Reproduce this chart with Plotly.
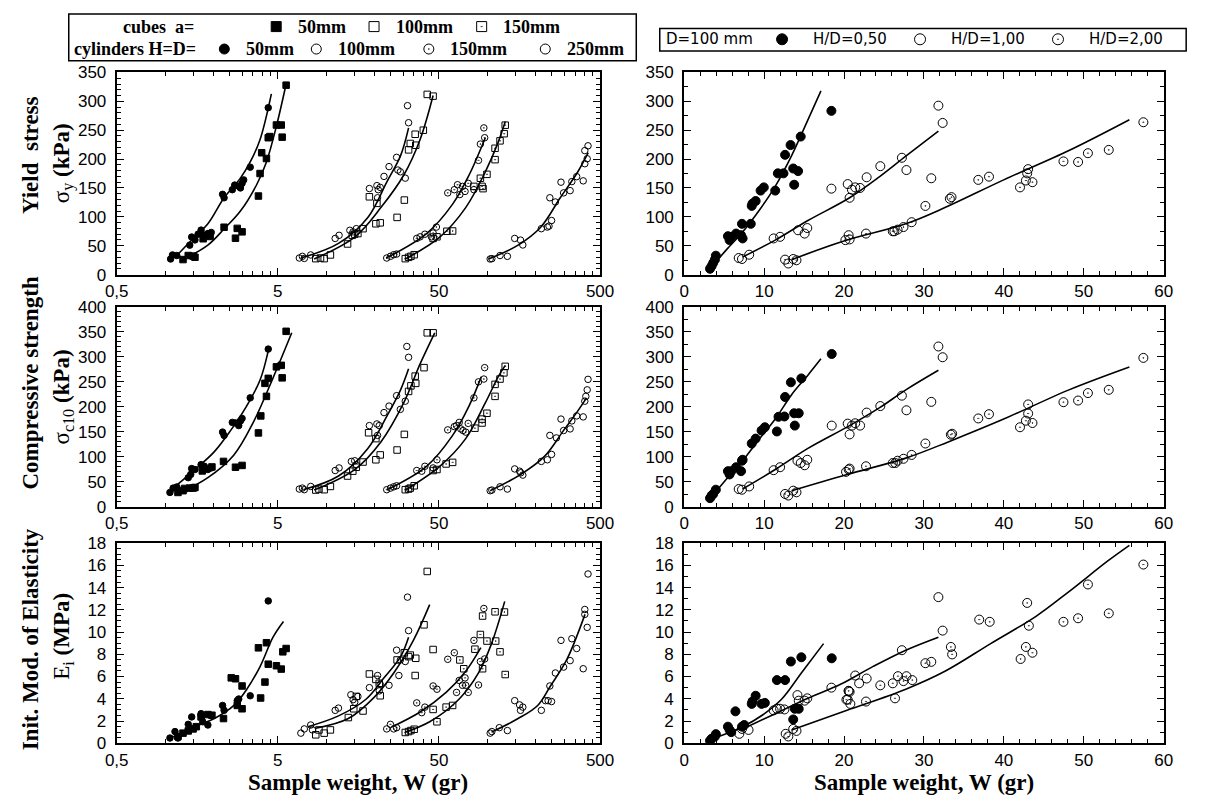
import math
import plotly.graph_objects as go

# ---------------- Yield stress, log weight axis (kPa) ----------------
sy_cyl50_w = [1.08, 1.11, 1.18, 1.42, 1.46, 1.53, 1.60, 1.67, 1.75, 1.84, 1.93, 2.27, 2.32, 2.61, 2.70, 2.86, 2.93, 3.0, 3.07, 3.37, 4.36]
sy_cyl50 = [27, 34, 33, 51, 65, 60, 70, 77, 68, 71, 73, 139, 133, 147, 155, 153, 150, 158, 164, 186, 289]
sy_cube50_w = [1.29, 1.39, 1.49, 1.53, 1.72, 1.90, 2.32, 2.73, 2.80, 3.0, 3.79, 3.88, 3.97, 4.25, 4.36, 4.46, 4.9, 5.25, 5.32, 5.63]
sy_cube50 = [26, 33, 32, 30, 62, 66, 82, 63, 80, 74, 136, 175, 211, 201, 237, 239, 259, 259, 238, 328]
sy_cyl100_w = [6.8, 7.1, 7.3, 8.0, 11.35, 12.0, 14.0, 14.66, 15.35, 18.5, 20.6, 21.0, 21.6, 20.8, 22.8, 24.5, 27.3, 27.8, 28.8, 30.9, 31.9, 32.4]
sy_cyl100 = [28.7, 31.6, 28, 34, 62.6, 68, 76.7, 74, 79.5, 149, 154, 147, 151, 133, 170, 187, 203, 181, 178, 167, 292.5, 263]
sy_cube100_w = [8.6, 9.2, 9.7, 10.6, 13.55, 14.5, 15.0, 15.7, 16.9, 18.5, 20.6, 20.3, 21.6, 27.5, 30.5, 32.4, 33.2, 35.9, 35.6, 40.0, 42.3, 46.0]
sy_cube100 = [27.6, 28.7, 27.6, 34, 53, 68, 70, 71, 79.5, 134.7, 123.4, 88, 89.6, 99, 129, 216, 227, 224, 243, 250, 312, 309]
sy_cyl150_w = [23.7, 25.0, 26.2, 27.3, 36.4, 38.2, 40.9, 44.9, 46.0, 48.2, 56.7, 62.3, 65.2, 67.4, 70.0, 72.6, 76.0, 82.4, 88.0, 90.4, 95.0, 96.1]
sy_cyl150 = [28.7, 31.6, 34.4, 35.5, 62.6, 65.4, 69.9, 65.4, 72, 82.3, 141.5, 147, 155.6, 138.6, 152.7, 144, 158, 147, 197.8, 226, 254, 237]
sy_cube150_w = [30.9, 32.4, 33.5, 35.1, 46.0, 48.6, 56.0, 60.8, 82.4, 92.6, 93.9, 90.4, 99.3, 111.5, 119.7, 111.5, 127.0, 128.9]
sy_cube150 = [27.6, 29.9, 31.6, 34.4, 62.6, 65.4, 75, 75.5, 152.7, 152.7, 148.8, 166.8, 173.6, 199, 231.6, 218.7, 244, 258.7]
sy_cyl250_w = [104, 106.5, 119.7, 133, 147.6, 160.4, 165.8, 216, 235.5, 241, 250, 244, 264, 286, 297, 326, 334, 358, 393, 402, 402, 416, 421]
sy_cyl250 = [27, 27.6, 33, 31.6, 62.6, 59.7, 51.3, 79.5, 82.3, 84, 93.6, 133, 125.7, 160, 141.5, 145.4, 161, 169.6, 162.3, 214.7, 192, 200.6, 223]

sy_cyl50_fit_w = [1.18, 1.46, 1.84, 2.32, 2.93, 3.37, 3.88, 4.56]
sy_cyl50_fit = [33, 60, 88, 133, 167, 195, 234, 313]
sy_cube50_fit_w = [1.29, 1.84, 2.32, 2.93, 3.70, 4.25, 4.9, 5.63]
sy_cube50_fit = [26, 51, 79, 110, 156, 195, 257, 330]
sy_cyl100_fit_w = [6.95, 11.9, 18.1, 23.8, 28.9, 32.4]
sy_cyl100_fit = [28.7, 54, 99, 161, 206, 254]
sy_cube100_fit_w = [8.4, 15.0, 21.8, 30.2, 38.2, 46.0]
sy_cube100_fit = [27, 65, 116, 172, 234, 310]
sy_cyl150_fit_w = [23.5, 41.9, 60.8, 76.8, 97.0]
sy_cyl150_fit = [28.7, 71, 122, 172, 237]
sy_cube150_fit_w = [30.9, 50.6, 73.3, 97.0, 116.5, 129.0]
sy_cube150_fit = [27, 65, 116, 178, 229, 265]
sy_cyl250_fit_w = [101.6, 155, 214, 283, 364, 422]
sy_cyl250_fit = [27, 51, 82, 133, 178, 211]

# ---------------- Compressive strength, log weight axis (kPa) ----------------
sc_cyl50_w = [1.07, 1.12, 1.18, 1.39, 1.44, 1.46, 1.53, 1.67, 1.75, 1.84, 1.93, 2.27, 2.32, 2.61, 2.73, 2.86, 2.93, 3.0, 3.37, 4.36]
sc_cyl50 = [29, 37.7, 40, 58.5, 65, 76.7, 74.8, 84.6, 81.3, 74.8, 78, 149.6, 143, 169, 168, 162.6, 172, 177, 218, 315.5]
sc_cube50_w = [1.2, 1.29, 1.32, 1.42, 1.49, 1.53, 1.70, 1.95, 2.30, 2.73, 3.0, 3.79, 3.92, 4.16, 4.25, 4.36, 4.9, 5.25, 5.32, 5.63]
sc_cube50 = [29, 32.5, 37, 37.7, 37.7, 39, 72, 80, 91, 79.4, 83, 148, 182, 247, 221, 257, 280, 283, 258, 351]
sc_cyl100_w = [6.8, 7.1, 7.3, 8.0, 11.35, 12.0, 14.3, 15.0, 15.35, 18.5, 20.6, 21.3, 20.8, 22.8, 24.5, 27.3, 28.8, 30.9, 31.6, 32.4]
sc_cyl100 = [35.8, 37.7, 34.5, 41, 72.8, 78, 91, 92.4, 84.6, 162.6, 165.9, 162.6, 143, 188.6, 201.6, 222.4, 195, 211.4, 320.7, 299]
sc_cube100_w = [8.6, 9.0, 9.7, 10.6, 13.55, 14.6, 15.35, 16.9, 18.3, 20.3, 20.3, 21.6, 27.5, 30.5, 32.4, 33.5, 35.9, 35.6, 40.4, 42.3, 46.0]
sc_cube100 = [33.8, 35.8, 34.5, 41, 61.8, 71.5, 79.4, 89.8, 148.3, 136.6, 94.3, 104, 113.8, 145, 230.9, 242, 247, 261.5, 278.4, 348, 348]
sc_cyl150_w = [23.7, 25.0, 26.2, 27.3, 36.4, 39.1, 40.9, 46.0, 48.6, 56.7, 62.3, 64.3, 66.8, 68.3, 70.5, 73.3, 76.0, 82.4, 88.0, 95.0, 96.1]
sc_cyl150 = [34.5, 37.7, 40.3, 42.3, 72.8, 71.5, 81.3, 78, 94.3, 154, 160.6, 162.6, 169, 156, 152.8, 149.6, 167, 218, 250, 255.6, 278.4]
sc_cube150_w = [30.9, 32.4, 33.2, 35.1, 46.0, 48.6, 55.4, 60.8, 83.6, 92.6, 92.6, 99.3, 111.5, 111.5, 119.7, 126.5, 128.9]
sc_cube150 = [34.5, 35.8, 37.7, 42.3, 72.8, 74.8, 85.9, 89.1, 157.4, 175.6, 167.8, 187.3, 221, 245, 255.6, 268, 281]
sc_cyl250_w = [104, 106.5, 119.7, 133, 147.6, 158.3, 161, 165.8, 216, 235.5, 244, 250, 268, 286, 297, 326, 334, 358, 393, 402, 408, 416, 421]
sc_cyl250 = [32.5, 33.8, 40.3, 35.8, 76, 71.5, 68.3, 63.7, 91, 94.3, 143, 105, 138, 175.6, 152.8, 156, 172, 182, 180, 211.4, 221, 234, 255]

sc_cyl50_fit_w = [1.12, 1.53, 2.02, 2.55, 3.2, 3.88, 4.36]
sc_cyl50_fit = [37.7, 74.8, 110.6, 153, 201.6, 253.7, 312]
sc_cube50_fit_w = [1.2, 1.84, 2.67, 3.52, 4.7, 6.1]
sc_cube50_fit = [26, 58.5, 104, 169, 260, 348]
sc_cyl100_fit_w = [7.2, 11.9, 18.1, 23.8, 28.9, 32.4]
sc_cyl100_fit = [34.5, 61.8, 117, 182, 234, 276]
sc_cube100_fit_w = [8.4, 15.0, 21.8, 30.2, 38.2, 47.1]
sc_cube100_fit = [33.8, 74.8, 130, 208, 286, 348]
sc_cyl150_fit_w = [23.8, 41.9, 60.8, 76.8, 91.5]
sc_cyl150_fit = [34.5, 81.3, 143, 201.6, 260]
sc_cube150_fit_w = [30.9, 50.6, 73.3, 97.0, 116.5, 129.0]
sc_cube150_fit = [33.8, 81.3, 136.6, 208, 260, 283]
sc_cyl250_fit_w = [104, 161, 226, 297, 364, 412]
sc_cyl250_fit = [32.5, 65, 101, 153, 192, 218]

# ---------------- Initial modulus of elasticity, log weight axis (MPa) ----------------
ei_cyl50_w = [1.07, 1.15, 1.2, 1.39, 1.46, 1.67, 1.67, 1.71, 1.84, 2.27, 2.32, 2.80, 2.86, 3.37, 4.36]
ei_cyl50 = [0.47, 1.05, 0.47, 1.7, 2.37, 2.66, 2.5, 1.93, 1.64, 3.4, 2.96, 3.83, 3.98, 4.27, 12.8]
ei_cube50_w = [1.2, 1.29, 1.39, 1.49, 1.56, 1.67, 1.84, 1.95, 2.30, 2.57, 2.73, 2.80, 3.0, 3.0, 3.79, 3.91, 4.16, 4.25, 4.36, 4.9, 5.25, 5.37, 5.63]
ei_cube50 = [0.61, 0.91, 1.11, 1.29, 1.49, 2.37, 2.58, 2.52, 2.22, 5.88, 5.8, 3.4, 3.1, 5.15, 8.58, 4.07, 5.5, 9.04, 7.11, 6.97, 6.67, 8.22, 8.52]
ei_cyl100_w = [6.95, 7.3, 8.0, 8.2, 11.35, 11.9, 14.2, 14.66, 15.0, 15.7, 18.5, 20.8, 21.3, 21.6, 24.5, 27.3, 28.2, 28.8, 30.9, 31.9, 32.4]
ei_cyl100 = [0.91, 1.29, 1.64, 1.2, 2.96, 3.16, 4.36, 3.92, 3.69, 4.21, 5.0, 6.09, 4.71, 5.3, 5.21, 8.37, 6.09, 7.49, 7.35, 13.14, 10.13]
ei_cube100_w = [8.6, 9.0, 9.7, 10.6, 13.7, 14.8, 15.35, 16.9, 18.5, 20.3, 21.3, 21.6, 27.5, 30.5, 32.4, 33.2, 35.9, 35.6, 40.4, 46.0, 42.3]
ei_cube100 = [0.76, 1.2, 0.91, 1.2, 2.31, 3.1, 4.21, 2.9, 6.23, 5.74, 5.39, 4.27, 7.49, 8.14, 7.79, 7.93, 7.64, 6.09, 10.65, 8.43, 15.45]
ei_cyl150_w = [23.7, 25.0, 26.2, 27.3, 36.4, 39.1, 40.9, 46.0, 48.6, 56.7, 62.3, 64.3, 66.8, 70.0, 72.6, 73.3, 76.0, 82.4, 88.0, 90.4, 95.0, 96.1]
ei_cyl150 = [1.29, 1.7, 1.29, 1.4, 3.63, 2.75, 3.25, 5.15, 4.86, 7.55, 8.14, 4.57, 5.65, 5.21, 5.88, 5.21, 4.57, 9.25, 5.24, 7.35, 12.12, 7.58]
ei_cube150_w = [30.9, 32.4, 33.5, 35.1, 46.0, 48.6, 55.4, 60.8, 67.4, 71.3, 83.6, 90.4, 93.3, 93.3, 99.3, 111.5, 112.5, 119.7, 127.5, 128.9]
ei_cube150 = [0.97, 1.05, 1.14, 1.26, 3.04, 1.93, 3.25, 3.4, 7.49, 6.7, 8.46, 9.78, 11.44, 6.7, 9.19, 11.82, 9.19, 8.22, 11.8, 6.18]
ei_cyl250_w = [104, 106.5, 118.5, 133, 147.6, 158.3, 160.4, 165.8, 216, 229, 238, 244, 250, 264, 286, 297, 326, 334, 358, 393, 402, 402, 416, 421]
ei_cyl250 = [0.91, 1.05, 1.4, 1.14, 3.83, 3.45, 2.96, 3.25, 2.96, 3.83, 3.83, 5.15, 3.75, 6.32, 9.25, 6.85, 7.43, 9.4, 8.52, 6.7, 12.03, 11.59, 10.42, 15.22]

ei_d50_fit_w = [1.1, 1.53, 2.02, 2.67, 3.21, 3.88, 4.67, 5.42]
ei_d50_fit = [0.53, 1.49, 2.22, 3.4, 4.86, 6.9, 9.54, 10.95]
ei_cyl100_fit_w = [7.7, 11.9, 17.7, 22.8, 28.9, 32.4]
ei_cyl100_fit = [1.49, 2.46, 3.98, 5.88, 7.79, 9.54]
ei_cube100_fit_w = [8.6, 13.7, 19.8, 26.2, 34.7, 43.8]
ei_cube100_fit = [1.35, 2.22, 4.13, 6.32, 9.25, 12.47]
ei_cyl150_fit_w = [25.7, 38.2, 55.4, 73.3, 91.0]
ei_cyl150_fit = [1.49, 2.81, 4.57, 6.47, 8.6]
ei_cube150_fit_w = [30.9, 43.8, 66.8, 88.0, 106.0, 128.0]
ei_cube150_fit = [1.0, 1.93, 3.98, 6.32, 8.96, 12.76]
ei_cyl250_fit_w = [106, 155, 205, 246, 310, 403]
ei_cyl250_fit = [1.0, 2.22, 3.4, 5.15, 7.49, 11.59]

# ---------------- D = 100 mm cylinders, linear weight axis ----------------
sy_hd050_w = [3.23, 3.43, 3.63, 3.84, 3.96, 5.47, 5.68, 5.88, 6.49, 7.11, 7.23, 7.31, 8.33, 8.45, 8.54, 8.94, 9.56, 9.96, 11.39, 11.72, 12.42, 12.62, 13.31, 13.64, 13.76, 14.25, 14.58, 18.42]
sy_hd050 = [10.1, 14.7, 20.3, 25.9, 32.7, 66.5, 59.7, 65.4, 71, 68.2, 87.9, 62.6, 87.9, 118.9, 122.9, 127.4, 145.4, 151, 145.4, 175.3, 175.3, 207.4, 224.3, 183.7, 155.6, 179.2, 239, 283.5]
sy_hd100_w = [6.82, 7.23, 8.13, 11.19, 12.0, 14.25, 15.07, 15.4, 18.42, 20.46, 20.7, 20.99, 21.4, 22.01, 22.83, 24.54, 27.24, 27.81, 30.92, 31.81, 32.34]
sy_hd100 = [28.7, 27, 34.4, 62.6, 65.4, 76.7, 71, 80.6, 148.8, 156.7, 133, 147, 151, 150, 168.5, 187.7, 202.3, 181, 166.8, 292.5, 262.6]
sy_hd200_w = [12.62, 13.03, 13.64, 14.05, 20.17, 20.58, 20.7, 22.75, 26.1, 26.3, 26.7, 27.44, 28.46, 30.18, 33.24, 33.45, 36.8, 38.14, 42.02, 42.76, 42.92, 43.04, 43.58, 47.46, 49.29, 50.52, 53.13, 57.46]
sy_hd200 = [25.9, 19.2, 27, 24.8, 59.7, 68.2, 60.9, 71, 75, 75, 77.8, 82.3, 90.7, 118.9, 131.3, 134.1, 164, 169.6, 151, 162.9, 175.3, 182.6, 160, 196, 195, 210.2, 215.9, 263.8]
sy_hd050_fit_w = [3.23, 5.27, 7.31, 9.35, 11.39, 13.44, 15.48, 17.11]
sy_hd050_fit = [10, 42.8, 73.8, 110.5, 152.7, 206, 268, 318]
sy_hd100_fit_w = [7.31, 11.39, 15.48, 20.7, 24.46, 27.73, 31.81]
sy_hd100_fit = [30.4, 59.7, 93.6, 133, 169.6, 205, 248.5]
sy_hd200_fit_w = [13.44, 20.38, 27.73, 32.63, 39.98, 48.15, 55.71]
sy_hd200_fit = [25.9, 59.7, 87.9, 116, 164, 214.7, 268]

sc_hd050_w = [3.23, 3.43, 3.63, 3.96, 5.47, 5.68, 5.88, 6.49, 7.11, 7.23, 7.31, 8.45, 8.94, 9.68, 10.09, 11.6, 11.8, 12.54, 12.62, 13.35, 13.76, 13.84, 14.33, 14.66, 18.46]
sc_hd050 = [17.6, 22.8, 26, 34.5, 71.5, 65, 71.5, 79.4, 71.5, 92.4, 94.3, 126.8, 136.6, 152.8, 159.3, 150.9, 180.2, 180.8, 219.8, 249.1, 187.3, 162.6, 187.3, 256.9, 305.7]
sc_hd100_w = [6.82, 7.23, 8.13, 11.19, 12.0, 14.17, 14.58, 15.07, 15.4, 18.46, 20.46, 20.7, 20.99, 21.4, 22.01, 22.83, 24.54, 27.24, 27.81, 30.92, 31.81, 32.34]
sc_hd100 = [35.8, 34.5, 41, 73.5, 79.4, 92.4, 87.8, 83.3, 94.3, 162.6, 166.5, 145, 162.6, 167.2, 162.6, 188.6, 201.6, 222.4, 193.2, 210, 320.7, 299.2]
sc_hd200_w = [12.62, 13.03, 13.64, 14.05, 20.25, 20.58, 20.7, 22.75, 26.1, 26.42, 26.7, 27.44, 28.46, 30.18, 33.37, 33.53, 36.8, 38.14, 42.02, 42.76, 43.04, 43.04, 43.58, 47.46, 49.29, 50.52, 53.13, 57.46]
sc_hd200 = [26, 22.8, 32.5, 29.3, 70.2, 74.8, 76.7, 81.3, 87.8, 87.8, 92.4, 96.3, 104, 126.8, 144.4, 146.3, 176.9, 185.4, 159.3, 172.4, 186.7, 204.9, 167.8, 209.4, 212.7, 227.6, 234.1, 297.9]
sc_hd050_fit_w = [3.23, 5.27, 7.31, 9.35, 11.39, 13.44, 15.48, 17.11]
sc_hd050_fit = [16.3, 55.3, 92.4, 134.6, 175.6, 224.4, 263.4, 296]
sc_hd100_fit_w = [7.31, 11.39, 15.48, 20.7, 24.46, 27.73, 31.81]
sc_hd100_fit = [35.8, 74.8, 117, 162.6, 198.4, 234, 273.2]
sc_hd200_fit_w = [13.44, 20.38, 27.73, 33.04, 39.98, 48.15, 55.71]
sc_hd200_fit = [32.5, 65, 97.6, 130, 175.6, 234, 279.7]

ei_hd050_w = [3.23, 3.43, 3.84, 3.96, 5.47, 5.68, 5.88, 6.41, 7.23, 7.51, 8.45, 8.54, 8.94, 9.68, 10.09, 11.6, 12.62, 13.35, 13.64, 13.84, 14.33, 14.66, 18.46]
ei_hd050 = [0.23, 0.41, 0.61, 0.82, 1.49, 1.2, 1.0, 2.87, 1.49, 1.64, 3.54, 3.75, 4.27, 3.54, 3.63, 5.68, 5.68, 7.35, 2.14, 3.1, 3.1, 7.73, 7.64]
ei_hd100_w = [6.9, 7.23, 8.05, 11.19, 11.6, 12.0, 12.54, 14.17, 14.33, 15.07, 15.4, 18.42, 20.46, 20.58, 20.7, 21.4, 21.89, 22.83, 27.24, 30.92, 31.81, 32.34]
ei_hd100 = [0.85, 1.29, 1.2, 2.96, 3.1, 3.1, 3.04, 4.33, 3.83, 3.83, 4.04, 5.0, 3.92, 4.71, 4.62, 6.09, 5.39, 5.82, 8.37, 7.32, 13.14, 10.13]
ei_hd200_w = [12.7, 13.03, 13.64, 14.05, 20.3, 20.58, 20.79, 22.75, 24.54, 26.1, 26.38, 26.75, 27.44, 27.81, 28.54, 30.18, 33.37, 33.53, 36.92, 38.23, 42.1, 42.76, 42.92, 43.13, 43.58, 47.46, 49.29, 50.52, 53.13, 57.46]
ei_hd200 = [0.85, 0.61, 1.29, 1.11, 3.92, 4.71, 3.54, 3.75, 5.21, 5.39, 4.04, 6.03, 5.59, 6.03, 5.68, 7.2, 8.66, 7.99, 11.12, 10.92, 7.58, 8.66, 12.62, 10.57, 8.14, 10.92, 11.24, 14.28, 11.68, 16.07]
ei_hd050_fit_w = [3.23, 7.31, 9.76, 12.21, 14.66, 17.44]
ei_hd050_fit = [0.32, 1.49, 2.52, 3.98, 6.32, 8.96]
ei_hd100_fit_w = [7.31, 11.39, 15.48, 19.56, 23.65, 27.73, 31.81]
ei_hd100_fit = [1.29, 2.66, 4.04, 5.3, 6.91, 8.37, 9.54]
ei_hd200_fit_w = [13.44, 20.38, 27.73, 32.63, 38.35, 44.07, 48.15, 53.05, 55.71]
ei_hd200_fit = [1.2, 2.96, 4.86, 6.47, 8.96, 11.44, 13.64, 16.42, 17.8]

# ---------------- tick labels ----------------
log_tickvals = [0.5, 5, 50, 500]
log_ticktext = ["0,5", "5", "50", "500"]
lin_tickvals = [0, 10, 20, 30, 40, 50, 60]

# ---------------- figure geometry ----------------
W, H = 1208, 805
SERIF = "Liberation Serif, Times New Roman, serif"
SANS = "Liberation Sans, Arial, sans-serif"

def px_x(a, b):
    return [a / W, b / W]

def px_y(top, bottom):
    return [1 - bottom / H, 1 - top / H]

LEFT_X = px_x(107, 601)
RIGHT_X = px_x(687, 1177)
ROWS_Y = [px_y(65, 272), px_y(305, 510), px_y(547, 752)]

SYM = {
    "cube50": "square", "cube100": "square-open", "cube150": "square-open-dot",
    "cyl50": "circle", "cyl100": "circle-open", "cyl150": "circle-open-dot",
    "cyl250": "circle-open",
    "hd050": "circle", "hd100": "circle-open", "hd200": "circle-open-dot",
}

fig = go.Figure()


def scatter(w, v, key, xa, ya, size):
    fig.add_trace(go.Scatter(
        x=w, y=v, mode="markers", xaxis=xa, yaxis=ya, showlegend=False,
        marker=dict(symbol=SYM[key], size=size, color="black",
                    line=dict(color="black", width=1)),
    ))


def curve(w, v, xa, ya, width=1.6):
    fig.add_trace(go.Scatter(
        x=w, y=v, mode="lines", xaxis=xa, yaxis=ya, showlegend=False,
        line=dict(color="black", width=width, shape="spline", smoothing=1.0),
    ))


# left column: cubes and cylinders on the log weight axis
left_panels = [
    ("x", "y", [
        (sy_cube50_w, sy_cube50, "cube50"), (sy_cyl50_w, sy_cyl50, "cyl50"),
        (sy_cyl100_w, sy_cyl100, "cyl100"), (sy_cube100_w, sy_cube100, "cube100"),
        (sy_cyl150_w, sy_cyl150, "cyl150"), (sy_cube150_w, sy_cube150, "cube150"),
        (sy_cyl250_w, sy_cyl250, "cyl250")],
     [(sy_cyl50_fit_w, sy_cyl50_fit), (sy_cube50_fit_w, sy_cube50_fit),
      (sy_cyl100_fit_w, sy_cyl100_fit), (sy_cube100_fit_w, sy_cube100_fit),
      (sy_cyl150_fit_w, sy_cyl150_fit), (sy_cube150_fit_w, sy_cube150_fit),
      (sy_cyl250_fit_w, sy_cyl250_fit)]),
    ("x3", "y3", [
        (sc_cube50_w, sc_cube50, "cube50"), (sc_cyl50_w, sc_cyl50, "cyl50"),
        (sc_cyl100_w, sc_cyl100, "cyl100"), (sc_cube100_w, sc_cube100, "cube100"),
        (sc_cyl150_w, sc_cyl150, "cyl150"), (sc_cube150_w, sc_cube150, "cube150"),
        (sc_cyl250_w, sc_cyl250, "cyl250")],
     [(sc_cyl50_fit_w, sc_cyl50_fit), (sc_cube50_fit_w, sc_cube50_fit),
      (sc_cyl100_fit_w, sc_cyl100_fit), (sc_cube100_fit_w, sc_cube100_fit),
      (sc_cyl150_fit_w, sc_cyl150_fit), (sc_cube150_fit_w, sc_cube150_fit),
      (sc_cyl250_fit_w, sc_cyl250_fit)]),
    ("x5", "y5", [
        (ei_cube50_w, ei_cube50, "cube50"), (ei_cyl50_w, ei_cyl50, "cyl50"),
        (ei_cyl100_w, ei_cyl100, "cyl100"), (ei_cube100_w, ei_cube100, "cube100"),
        (ei_cyl150_w, ei_cyl150, "cyl150"), (ei_cube150_w, ei_cube150, "cube150"),
        (ei_cyl250_w, ei_cyl250, "cyl250")],
     [(ei_d50_fit_w, ei_d50_fit),
      (ei_cyl100_fit_w, ei_cyl100_fit), (ei_cube100_fit_w, ei_cube100_fit),
      (ei_cyl150_fit_w, ei_cyl150_fit), (ei_cube150_fit_w, ei_cube150_fit),
      (ei_cyl250_fit_w, ei_cyl250_fit)]),
]

right_panels = [
    ("x2", "y2", [(sy_hd050_w, sy_hd050, "hd050"), (sy_hd100_w, sy_hd100, "hd100"),
                  (sy_hd200_w, sy_hd200, "hd200")],
     [(sy_hd050_fit_w, sy_hd050_fit), (sy_hd100_fit_w, sy_hd100_fit),
      (sy_hd200_fit_w, sy_hd200_fit)]),
    ("x4", "y4", [(sc_hd050_w, sc_hd050, "hd050"), (sc_hd100_w, sc_hd100, "hd100"),
                  (sc_hd200_w, sc_hd200, "hd200")],
     [(sc_hd050_fit_w, sc_hd050_fit), (sc_hd100_fit_w, sc_hd100_fit),
      (sc_hd200_fit_w, sc_hd200_fit)]),
    ("x6", "y6", [(ei_hd050_w, ei_hd050, "hd050"), (ei_hd100_w, ei_hd100, "hd100"),
                  (ei_hd200_w, ei_hd200, "hd200")],
     [(ei_hd050_fit_w, ei_hd050_fit), (ei_hd100_fit_w, ei_hd100_fit),
      (ei_hd200_fit_w, ei_hd200_fit)]),
]

for xa, ya, series, fits in left_panels:
    for w, v in fits:
        curve(w, v, xa, ya)
    for w, v, key in series:
        scatter(w, v, key, xa, ya, 6.5)

for xa, ya, series, fits in right_panels:
    for w, v in fits:
        curve(w, v, xa, ya)
    for w, v, key in series:
        scatter(w, v, key, xa, ya, 9)

# ---------------- axes ----------------
log_minor = [0.5 * k * 10 ** n for n in range(3) for k in range(2, 10)]

frame = dict(showline=True, linecolor="black", linewidth=2, mirror="allticks",
             ticks="inside", ticklen=7, tickwidth=1.2, tickcolor="black",
             showgrid=False, zeroline=False,
             tickfont=dict(family=SANS, size=17, color="black"))

y_specs = [(350, 50, 10, 25), (400, 50, 10, 25), (18, 2, 0.5, 1)]
layout_axes = {}
for r in range(3):
    top, major, minor_l, minor_r = y_specs[r]
    lx = "xaxis" if r == 0 else f"xaxis{2 * r + 1}"
    rx = f"xaxis{2 * r + 2}"
    ly = "yaxis" if r == 0 else f"yaxis{2 * r + 1}"
    ry = f"yaxis{2 * r + 2}"
    ly_anchor = "y" if r == 0 else f"y{2 * r + 1}"
    lx_anchor = "x" if r == 0 else f"x{2 * r + 1}"
    layout_axes[lx] = dict(frame, type="log", domain=LEFT_X, anchor=ly_anchor,
                           range=[math.log10(0.5), math.log10(500)],
                           tickmode="array", tickvals=log_tickvals, ticktext=log_ticktext,
                           minor=dict(tickmode="array", tickvals=log_minor, ticks="inside",
                                      ticklen=4, tickcolor="black", tickwidth=1))
    layout_axes[rx] = dict(frame, domain=RIGHT_X, anchor=f"y{2 * r + 2}", range=[0, 60],
                           tickmode="array", tickvals=lin_tickvals,
                           minor=dict(dtick=2, ticks="inside", ticklen=4,
                                      tickcolor="black", tickwidth=1))
    layout_axes[ly] = dict(frame, domain=ROWS_Y[r], anchor=lx_anchor, range=[0, top],
                           dtick=major, tick0=0, ticklabelstandoff=5,
                           minor=dict(dtick=minor_l, tick0=0, ticks="inside", ticklen=4,
                                      tickcolor="black", tickwidth=1))
    layout_axes[ry] = dict(frame, domain=ROWS_Y[r], anchor=f"x{2 * r + 2}", range=[0, top],
                           dtick=major, tick0=0, ticklabelstandoff=5,
                           minor=dict(dtick=minor_r, tick0=0, ticks="inside", ticklen=4,
                                      tickcolor="black", tickwidth=1))

# pixel-space overlay used for the key boxes and titles
layout_axes["xaxis7"] = dict(domain=[0, 1], range=[0, W], visible=False, anchor="y7",
                             fixedrange=True)
layout_axes["yaxis7"] = dict(domain=[0, 1], range=[H, 0], visible=False, anchor="x7",
                             fixedrange=True)

fig.update_layout(
    width=W, height=H, margin=dict(l=0, r=0, t=0, b=0),
    paper_bgcolor="white", plot_bgcolor="rgba(0,0,0,0)", showlegend=False,
    **layout_axes,
)

# ---------------- keys ----------------
key_left = [
    (270, 18, "cube50", "50mm"), (370, 18, "cube100", "100mm"), (480, 18, "cube150", "150mm"),
    (217, 41, "cyl50", "50mm"), (311, 41, "cyl100", "100mm"), (426, 41, "cyl150", "150mm"),
    (545, 41, "cyl250", "250mm"),
]
key_right = [
    (787, 31, "hd050", "H/D=0,50"), (928, 31, "hd100", "H/D=1,00"), (1069, 31, "hd200", "H/D=2,00"),
]

for kx, ky, key, label in key_left:
    fig.add_trace(go.Scatter(x=[kx], y=[ky], mode="markers", xaxis="x7", yaxis="y7",
                             showlegend=False,
                             marker=dict(symbol=SYM[key], size=10, color="black",
                                         line=dict(color="black", width=1))))
    fig.add_annotation(x=kx + 20, y=ky, xref="x7", yref="y7", text=f"<b>{label}</b>",
                       showarrow=False, xanchor="left", yanchor="middle",
                       font=dict(family=SERIF, size=18, color="black"))
for kx, ky, key, label in key_right:
    fig.add_trace(go.Scatter(x=[kx], y=[ky], mode="markers", xaxis="x7", yaxis="y7",
                             showlegend=False,
                             marker=dict(symbol=SYM[key], size=11, color="black",
                                         line=dict(color="black", width=1))))
    fig.add_annotation(x=kx + 30, y=ky, xref="x7", yref="y7", text=label,
                       showarrow=False, xanchor="left", yanchor="middle",
                       font=dict(family="DejaVu Sans, sans-serif", size=15, color="black"))

fig.add_annotation(x=150, y=18, xref="x7", yref="y7", text="<b>cubes  a=</b>",
                   showarrow=False, xanchor="center", yanchor="middle",
                   font=dict(family=SERIF, size=18, color="black"))
fig.add_annotation(x=61, y=41, xref="x7", yref="y7", text="<b>cylinders H=D=</b>",
                   showarrow=False, xanchor="left", yanchor="middle",
                   font=dict(family=SERIF, size=18, color="black"))
fig.add_annotation(x=666, y=31, xref="x7", yref="y7", text="D=100 mm",
                   showarrow=False, xanchor="left", yanchor="middle",
                   font=dict(family="DejaVu Sans, sans-serif", size=15, color="black"))

fig.add_shape(type="rect", xref="x7", yref="y7", x0=58, x1=638, y0=5, y1=53,
              line=dict(color="black", width=1.5), fillcolor="rgba(0,0,0,0)")
fig.add_shape(type="rect", xref="x7", yref="y7", x0=662, x1=1200, y0=20, y1=43,
              line=dict(color="black", width=1.5), fillcolor="rgba(0,0,0,0)")

# ---------------- axis titles ----------------
row_titles = [
    ("<b>Yield  stress</b>", "σ<sub>y</sub> <b>(kPa)</b>", 150, 158),
    ("<b>Compressive strength</b>", "σ<sub>c10</sub> <b>(kPa)</b>", 383, 397),
    ("<b>Init. Mod. of Elasticity</b>", "E<sub>i</sub> <b>(MPa)</b>", 646, 642),
]
for t1, t2, yc1, yc2 in row_titles:
    fig.add_annotation(x=19, y=yc1, xref="x7", yref="y7", text=t1, textangle=-90,
                       showarrow=False, xanchor="center", yanchor="middle",
                       font=dict(family=SERIF, size=23, color="black"))
    fig.add_annotation(x=52, y=yc2, xref="x7", yref="y7", text=t2, textangle=-90,
                       showarrow=False, xanchor="center", yanchor="middle",
                       font=dict(family=SERIF, size=23, color="black"))

for xc in (354, 932):
    fig.add_annotation(x=xc / W, y=0, xref="paper", yref="paper",
                       text="<b>Sample weight, W (gr)</b>", yshift=-2,
                       showarrow=False, xanchor="center", yanchor="bottom",
                       font=dict(family=SERIF, size=23, color="black"))

fig.write_html("out.html")
